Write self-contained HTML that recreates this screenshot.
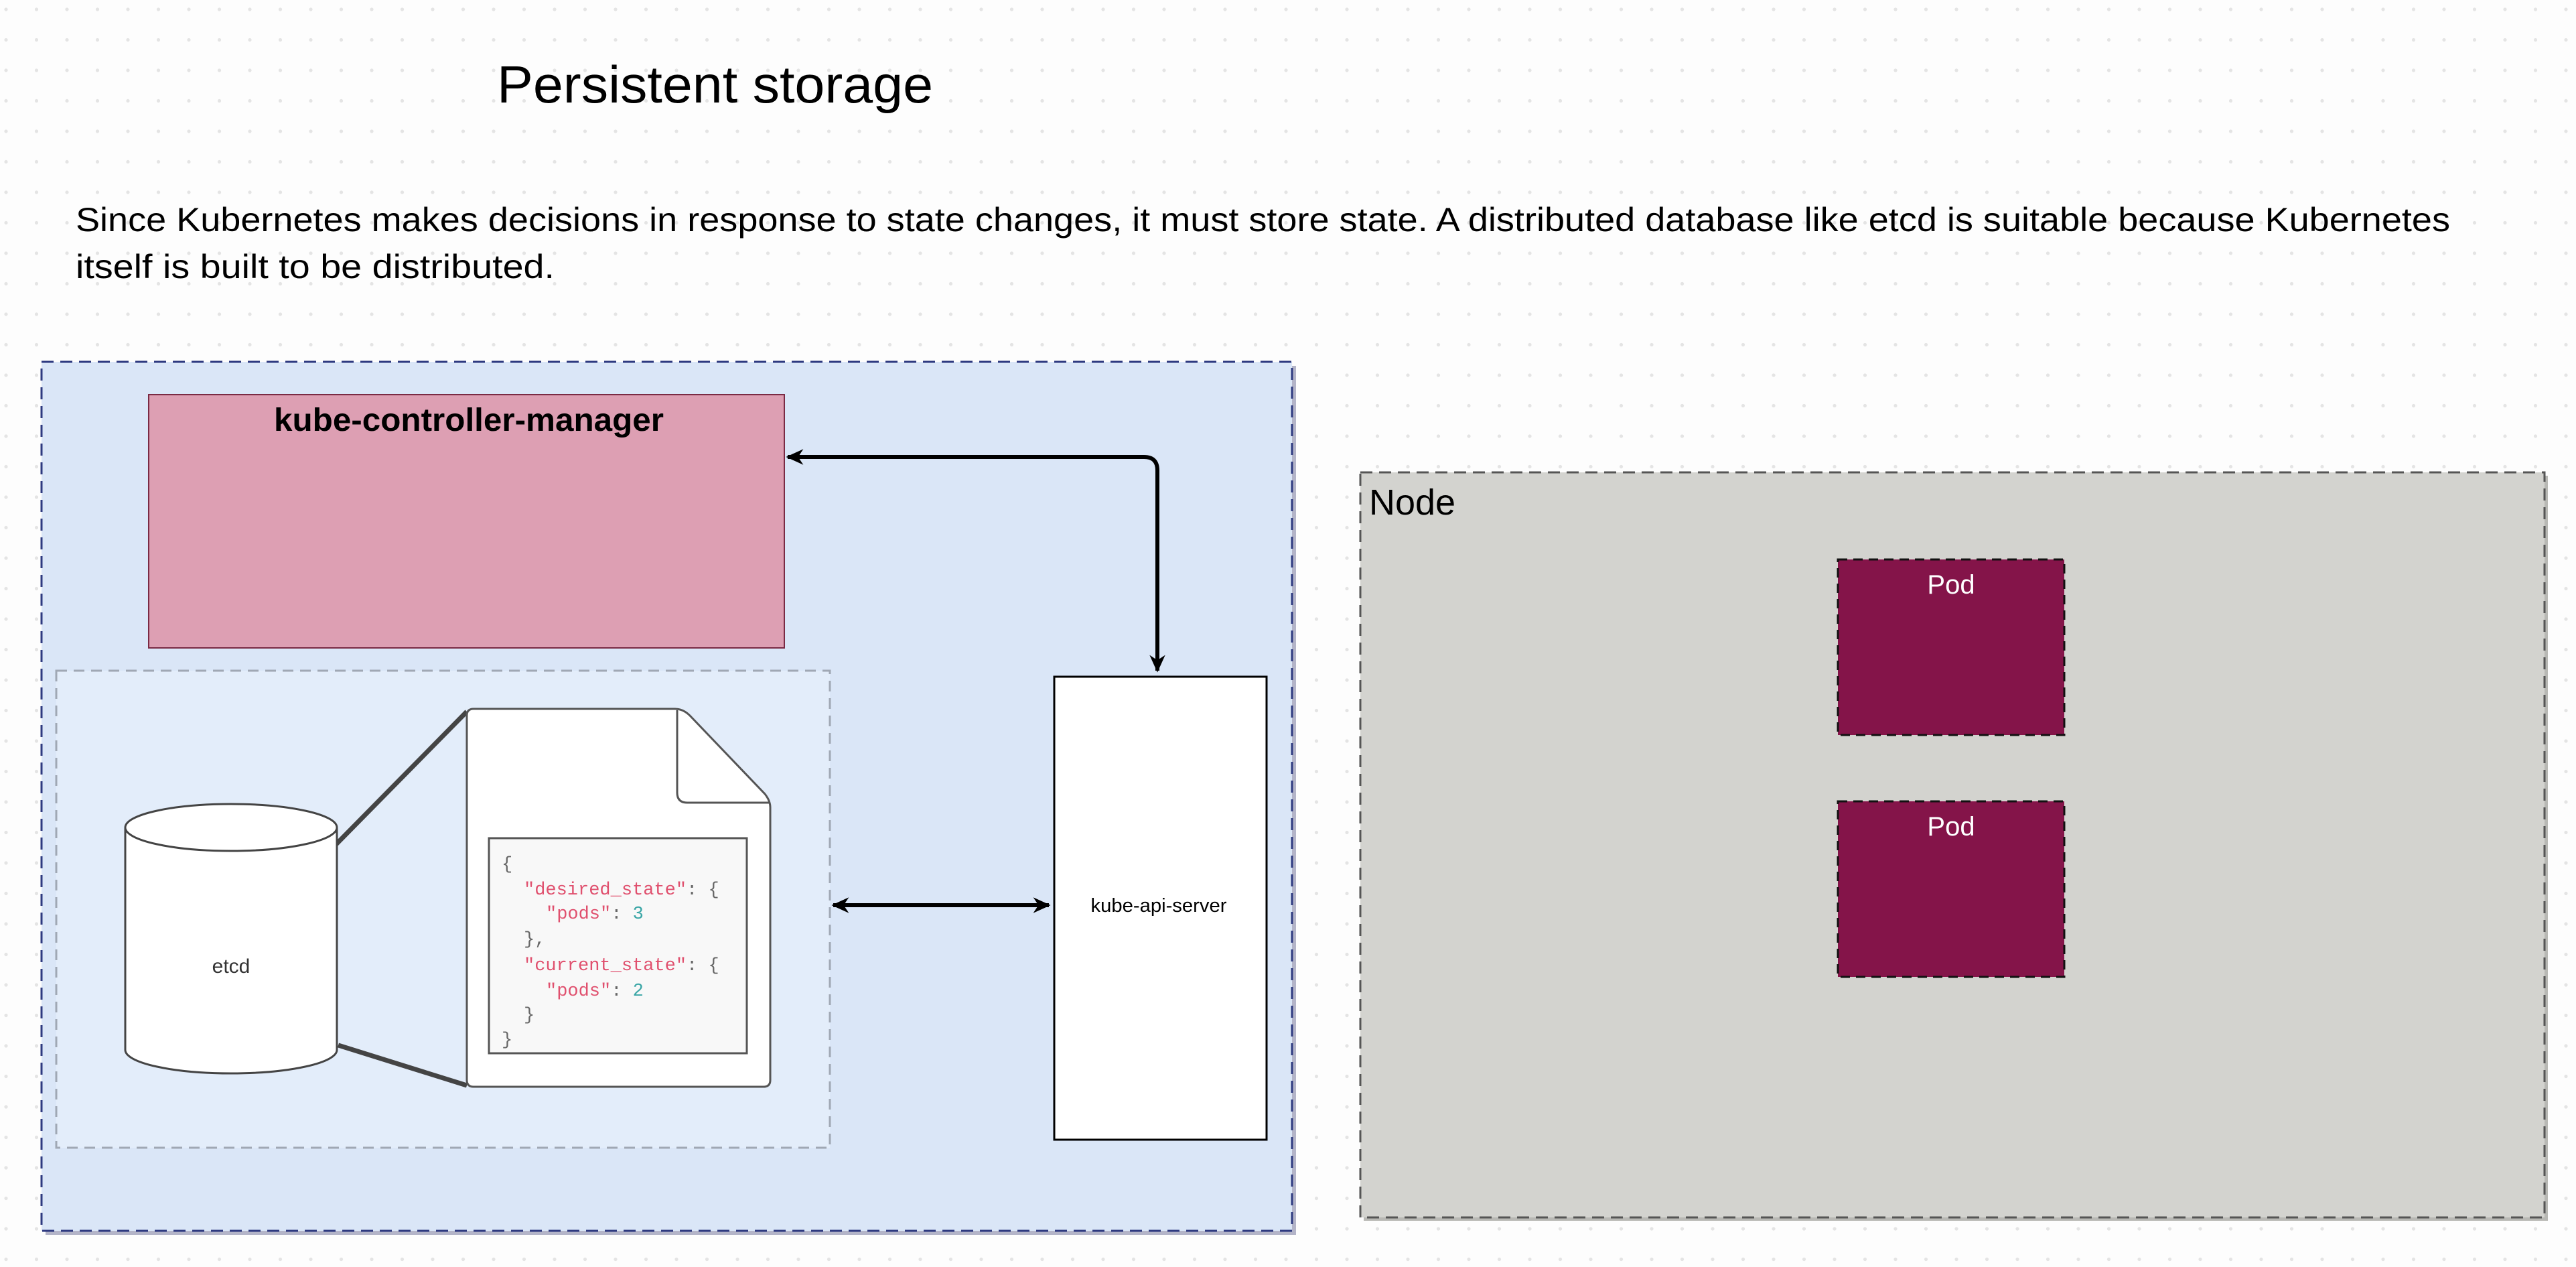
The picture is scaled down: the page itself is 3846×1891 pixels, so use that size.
<!DOCTYPE html>
<html><head><meta charset="utf-8"><style>
html,body{margin:0;padding:0;background:#fdfdfd;}
svg{display:block;}
</style></head><body>
<svg width="3846" height="1891" viewBox="0 0 3846 1891" xmlns="http://www.w3.org/2000/svg">
<defs>
<pattern id="dots" x="-6" y="-1" width="45.5" height="45.5" patternUnits="userSpaceOnUse">
<circle cx="15" cy="15" r="2.6" fill="#e4e4e4"/>
</pattern>
<marker id="ah" viewBox="0 0 20 20" refX="18" refY="10" markerWidth="26" markerHeight="26" markerUnits="userSpaceOnUse" orient="auto-start-reverse">
<path d="M0,1 L20,10 L0,19 L6,10 Z" fill="#000"/>
</marker>
</defs>
<rect width="3846" height="1891" fill="#fdfdfd"/>
<rect width="3846" height="1891" fill="url(#dots)"/>

<text x="742" y="153" font-family="Liberation Sans, sans-serif" font-size="78" fill="#000" textLength="651" lengthAdjust="spacingAndGlyphs">Persistent storage</text>
<text x="113" y="345" font-family="Liberation Sans, sans-serif" font-size="50" fill="#000" textLength="3545" lengthAdjust="spacingAndGlyphs">Since Kubernetes makes decisions in response to state changes, it must store state. A distributed database like etcd is suitable because Kubernetes</text>
<text x="113" y="415" font-family="Liberation Sans, sans-serif" font-size="50" fill="#000" textLength="715" lengthAdjust="spacingAndGlyphs">itself is built to be distributed.</text>

<rect x="68" y="546" width="1867" height="1297" fill="#b3b4c8"/>
<rect x="62" y="540" width="1867" height="1297" fill="#dae6f7" stroke="#2e3a80" stroke-width="3" stroke-dasharray="18,10"/>

<rect x="222" y="589" width="949" height="378" fill="#dd9fb3" stroke="#7a2a44" stroke-width="2"/>
<text x="700" y="643" text-anchor="middle" font-family="Liberation Sans, sans-serif" font-weight="bold" font-size="48" fill="#000" textLength="582" lengthAdjust="spacingAndGlyphs">kube-controller-manager</text>

<rect x="84" y="1001" width="1155" height="712" fill="#e3edfa" stroke="#a0a8b4" stroke-width="3" stroke-dasharray="16,10"/>

<line x1="500" y1="1262" x2="697" y2="1062" stroke="#444" stroke-width="7"/>
<line x1="505" y1="1560" x2="697" y2="1620" stroke="#444" stroke-width="7"/>

<path d="M187,1235 L187,1567 A158,35 0 0 0 503,1567 L503,1235" fill="#fff" stroke="#444" stroke-width="3"/>
<ellipse cx="345" cy="1235" rx="158" ry="35" fill="#fff" stroke="#444" stroke-width="3"/>
<text x="345" y="1452" text-anchor="middle" font-family="Liberation Sans, sans-serif" font-size="30" fill="#333">etcd</text>

<path d="M707,1058 L1008,1058 Q1020,1058 1030,1068 L1142,1185 Q1150,1195 1150,1205 L1150,1612 Q1150,1622 1140,1622 L707,1622 Q697,1622 697,1612 L697,1068 Q697,1058 707,1058 Z" fill="#fff" stroke="#555" stroke-width="3"/>
<path d="M1011,1060 L1011,1183 Q1011,1198 1026,1198 L1150,1198" fill="none" stroke="#555" stroke-width="3"/>
<rect x="730" y="1251" width="385" height="321" fill="#f8f8f8" stroke="#555" stroke-width="3"/>
<g font-family="Liberation Mono, DejaVu Sans Mono, monospace" font-size="27" fill="#666">
<text x="749" y="1297">{</text>
<text x="782" y="1335"><tspan fill="#e0506e">"desired_state"</tspan>: {</text>
<text x="815" y="1371"><tspan fill="#e0506e">"pods"</tspan>: <tspan fill="#3aa6a6">3</tspan></text>
<text x="782" y="1409">},</text>
<text x="782" y="1448"><tspan fill="#e0506e">"current_state"</tspan>: {</text>
<text x="815" y="1486"><tspan fill="#e0506e">"pods"</tspan>: <tspan fill="#3aa6a6">2</tspan></text>
<text x="782" y="1522">}</text>
<text x="749" y="1559">}</text>
</g>

<rect x="1574" y="1010" width="317" height="691" fill="#fff" stroke="#000" stroke-width="3"/>
<text x="1730" y="1361" text-anchor="middle" font-family="Liberation Sans, sans-serif" font-size="29" fill="#000" textLength="203" lengthAdjust="spacingAndGlyphs">kube-api-server</text>

<path d="M1176,682 L1708,682 Q1728,682 1728,702 L1728,1001" fill="none" stroke="#000" stroke-width="6" marker-start="url(#ah)" marker-end="url(#ah)"/>
<path d="M1244,1351 L1566,1351" fill="none" stroke="#000" stroke-width="6" marker-start="url(#ah)" marker-end="url(#ah)"/>

<rect x="2036" y="710" width="1768" height="1112" fill="#b8b8b4"/>
<rect x="2031" y="705" width="1768" height="1112" fill="#d3d3cf" stroke="#555" stroke-width="3" stroke-dasharray="18,10"/>
<text x="2044" y="768" font-family="Liberation Sans, sans-serif" font-size="54" fill="#000">Node</text>

<rect x="2744" y="835" width="338" height="262" fill="#841449" stroke="#111" stroke-width="3" stroke-dasharray="14,9"/>
<text x="2913" y="886" text-anchor="middle" font-family="Liberation Sans, sans-serif" font-size="40" fill="#fff">Pod</text>
<rect x="2744" y="1196" width="338" height="262" fill="#841449" stroke="#111" stroke-width="3" stroke-dasharray="14,9"/>
<text x="2913" y="1247" text-anchor="middle" font-family="Liberation Sans, sans-serif" font-size="40" fill="#fff">Pod</text>
</svg>
</body></html>
